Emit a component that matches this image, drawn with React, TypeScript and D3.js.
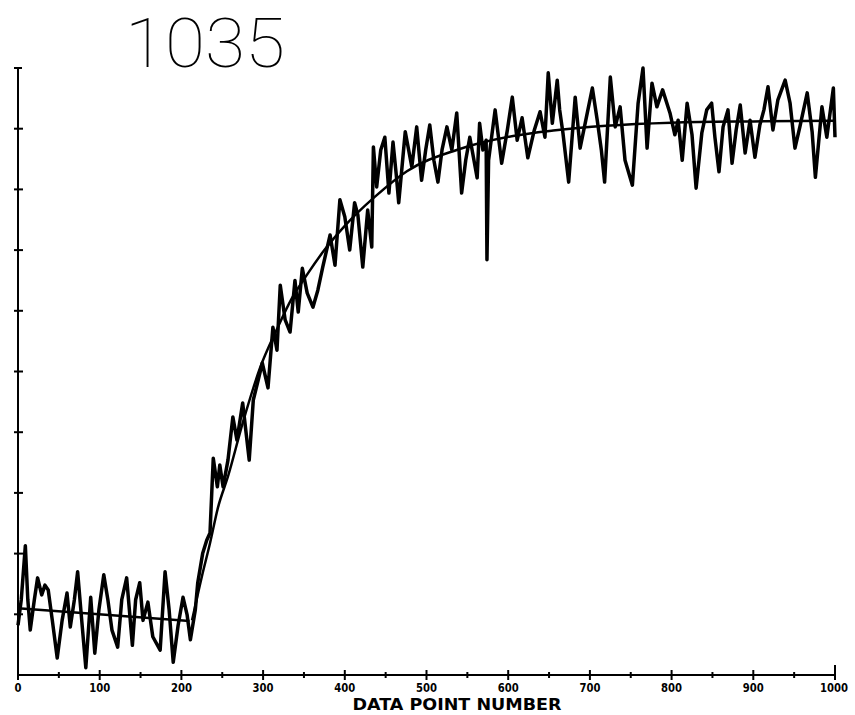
import { useEffect, useRef } from "react";
import * as d3 from "d3";

// raw trace (data point number, signal)
const dataX = [
  0, 4, 9, 12, 15, 20, 24, 29, 33, 37, 42, 48, 54, 60, 64, 69, 73, 78, 83, 89,
  94, 99, 105, 110, 115, 122, 127, 133, 140, 144, 149, 153, 159, 165, 174, 180,
  185, 190, 196, 202, 207, 211, 217, 220, 226, 231, 235, 239, 244, 247, 251, 257,
  263, 268, 275, 283, 288, 294, 299, 306, 312, 317, 321, 327, 333, 339, 343, 348,
  354, 361, 367, 373, 382, 388, 394, 400, 406, 412, 416, 422, 428, 433, 435, 439,
  444, 449, 454, 459, 463, 466, 474, 482, 488, 494, 499, 504, 509, 514, 519, 525,
  531, 537, 543, 548, 553, 562, 565, 569, 573, 574, 576, 584, 592, 599, 605, 611,
  617, 624, 632, 639, 645, 649, 654, 660, 663, 667, 674, 682, 688, 695, 703, 709,
  714, 718, 725, 731, 737, 743, 752, 759, 765, 770, 776, 782, 789, 798, 804, 808,
  813, 819, 825, 830, 837, 843, 849, 853, 858, 863, 869, 874, 879, 884, 890, 896,
  902, 908, 913, 918, 924, 930, 939, 945, 951, 957, 966, 972, 976, 984, 990, 998,
  1000,
];
const dataY = [
  0.82, 1.24, 2.13, 1.24, 0.74, 1.24, 1.6, 1.32, 1.48, 1.4, 0.9, 0.28, 0.9, 1.35,
  0.79, 1.24, 1.7, 0.9, 0.12, 1.28, 0.36, 1.07, 1.65, 1.24, 0.74, 0.46, 1.24, 1.6,
  0.49, 1.24, 1.52, 0.9, 1.2, 0.63, 0.41, 1.7, 1.07, 0.21, 0.82, 1.28, 0.99, 0.58,
  1.07, 1.52, 2.0, 2.22, 2.34, 3.57, 3.1, 3.46, 3.1, 3.54, 4.25, 3.87, 4.48, 3.54,
  4.53, 4.86, 5.14, 4.73, 5.73, 5.35, 6.42, 5.85, 5.65, 6.5, 5.98, 6.7, 6.29, 6.06,
  6.34, 6.72, 7.25, 6.75, 7.83, 7.55, 7.0, 7.78, 7.58, 6.72, 7.66, 7.05, 8.7, 8.04,
  8.65, 8.86, 7.94, 8.78, 8.24, 7.78, 8.95, 8.37, 9.03, 8.15, 8.65, 9.06, 8.48,
  8.12, 8.65, 9.03, 8.65, 9.26, 7.94, 8.48, 8.86, 8.19, 9.09, 8.65, 8.81, 6.84,
  8.48, 9.31, 8.43, 8.98, 9.52, 8.81, 9.18, 8.52, 8.98, 9.28, 8.86, 9.92, 9.09,
  9.8, 9.31, 8.93, 8.12, 9.52, 8.68, 9.14, 9.67, 9.14, 8.65, 8.12, 9.85, 9.03,
  9.36, 8.48, 8.07, 9.42, 10.0, 8.68, 9.75, 9.36, 9.64, 9.26, 8.9, 9.14, 8.48,
  9.42, 8.9, 8.02, 8.93, 9.31, 9.42, 8.86, 8.29, 9.03, 9.31, 8.43, 8.98, 9.39,
  8.6, 9.14, 8.53, 9.06, 9.31, 9.69, 8.98, 9.47, 9.8, 9.42, 8.68, 9.03, 9.59,
  8.95, 8.2, 9.36, 8.86, 9.67, 8.86,
];

// fitted curves
const baseFitX = [0, 210];
const baseFitY = [1.1, 0.89];
const riseFitX = [213, 225, 235, 245, 257, 275, 296, 317, 335, 354, 375, 400, 437, 476, 537, 606, 655, 720, 800, 900, 1000];
const riseFitY = [0.9, 1.62, 2.17, 2.77, 3.27, 4.15, 5.05, 5.7, 6.2, 6.6, 7.0, 7.4, 7.88, 8.3, 8.65, 8.88, 8.97, 9.05, 9.1, 9.12, 9.13];

const xTicks = [0, 100, 200, 300, 400, 500, 600, 700, 800, 900, 1000];
const xMinor = [50, 150, 250, 350, 450, 550, 650, 750, 850, 950];
const yTicks = [1, 2, 3, 4, 5, 6, 7, 8, 9];

const title = "1035";
const xTitle = "DATA POINT NUMBER";

function App() {
  const ref = useRef<SVGSVGElement>(null);

  useEffect(() => {
    const svg = d3.select(ref.current);
    svg.selectAll("*").remove();

    const x = d3.scaleLinear().domain([0, 1000]).range([18, 835]);
    const y = d3.scaleLinear().domain([0, 10]).range([675, 68]);

    const g = svg.append("g");

    // axes
    g.append("line")
      .attr("x1", x(0)).attr("x2", x(0))
      .attr("y1", y(10)).attr("y2", y(0))
      .attr("stroke", "#000").attr("stroke-width", 2);
    g.append("line")
      .attr("x1", x(0)).attr("x2", x(1000))
      .attr("y1", y(0)).attr("y2", y(0))
      .attr("stroke", "#000").attr("stroke-width", 2);
    // top cap
    g.append("line")
      .attr("x1", x(0) - 4).attr("x2", x(0) + 4)
      .attr("y1", y(10)).attr("y2", y(10))
      .attr("stroke", "#000").attr("stroke-width", 2);

    g.selectAll(".ytick")
      .data(yTicks)
      .enter()
      .append("line")
      .attr("class", "ytick")
      .attr("x1", x(0) - 4).attr("x2", x(0) + 5)
      .attr("y1", (d) => y(d)).attr("y2", (d) => y(d))
      .attr("stroke", "#000").attr("stroke-width", 2);

    g.selectAll(".xtick")
      .data(xTicks)
      .enter()
      .append("line")
      .attr("class", "xtick")
      .attr("x1", (d) => x(d)).attr("x2", (d) => x(d))
      .attr("y1", (d) => y(0) - (d === 1000 ? 10 : 5))
      .attr("y2", y(0) + 5)
      .attr("stroke", "#000").attr("stroke-width", 2);

    g.selectAll(".xminor")
      .data(xMinor)
      .enter()
      .append("line")
      .attr("class", "xminor")
      .attr("x1", (d) => x(d)).attr("x2", (d) => x(d))
      .attr("y1", y(0) - 3).attr("y2", y(0) + 3)
      .attr("stroke", "#000").attr("stroke-width", 2);

    g.selectAll(".xlabel")
      .data(xTicks)
      .enter()
      .append("text")
      .attr("class", "xlabel")
      .attr("x", (d) => (d === 1000 ? x(d) - 1 : x(d)))
      .attr("y", 692)
      .attr("text-anchor", "middle")
      .attr("textLength", (d) => String(d).length * 7)
      .attr("lengthAdjust", "spacingAndGlyphs")
      .style("font-family", "DejaVu Sans")
      .style("font-weight", "bold")
      .style("font-size", "13px")
      .text((d) => d);

    g.append("text")
      .attr("x", 457)
      .attr("y", 710)
      .attr("text-anchor", "middle")
      .attr("textLength", 209)
      .attr("lengthAdjust", "spacingAndGlyphs")
      .style("font-family", "DejaVu Sans")
      .style("font-weight", "bold")
      .style("font-size", "16px")
      .text(xTitle);

    g.append("text")
      .attr("x", 125)
      .attr("y", 67)
      .attr("textLength", 160)
      .attr("lengthAdjust", "spacingAndGlyphs")
      .style("font-family", "Roboto")
      .style("font-weight", 100)
      .style("font-size", "68px")
      .text(title);

    const trace = d3
      .line<[number, number]>()
      .x((d) => x(d[0]))
      .y((d) => y(d[1]));

    const fit = d3
      .line<[number, number]>()
      .x((d) => x(d[0]))
      .y((d) => y(d[1]))
      .curve(d3.curveMonotoneX);

    g.append("path")
      .datum(dataX.map((v, i) => [v, dataY[i]] as [number, number]))
      .attr("d", trace)
      .attr("fill", "none")
      .attr("stroke", "#000")
      .attr("stroke-width", 3.5)
      .attr("stroke-linejoin", "round");

    g.append("path")
      .datum(baseFitX.map((v, i) => [v, baseFitY[i]] as [number, number]))
      .attr("d", fit)
      .attr("fill", "none")
      .attr("stroke", "#000")
      .attr("stroke-width", 2.5);

    g.append("path")
      .datum(riseFitX.map((v, i) => [v, riseFitY[i]] as [number, number]))
      .attr("d", fit)
      .attr("fill", "none")
      .attr("stroke", "#000")
      .attr("stroke-width", 2.5);
  }, []);

  return (
    <svg
      ref={ref}
      width={855}
      height={715}
      style={{ position: "absolute", left: 0, top: 0, background: "#fff" }}
    ></svg>
  );
}

export default App;
